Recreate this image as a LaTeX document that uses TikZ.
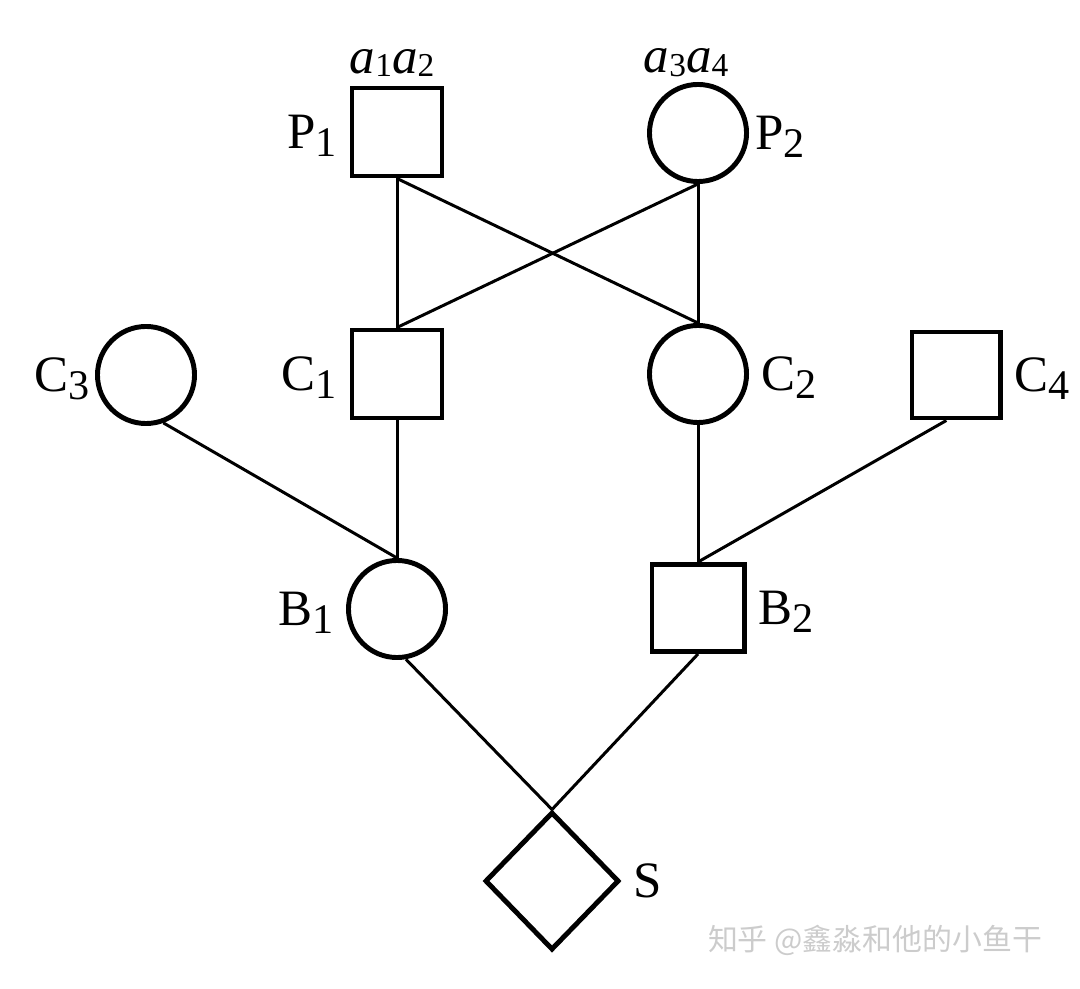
\documentclass[tikz,border=0pt]{standalone}
\usepackage{fontspec}
\setmainfont{Liberation Serif}
\newfontfamily\cjk{Noto Sans CJK SC}
\usetikzlibrary{shapes.geometric,positioning}
\newcommand{\lowsub}[1]{\raisebox{-2.3pt}{\fontsize{12}{12}\selectfont #1}}
\newcommand{\asub}[1]{\raisebox{-1pt}{\fontsize{9.5}{9.5}\selectfont #1}}

\begin{document}
\begin{tikzpicture}[x=0.01cm,y=-0.01cm,
  sq/.style={draw,line width=1.4pt,minimum width=0.9cm,minimum height=0.88cm,inner sep=0pt},
  crc/.style={circle,draw,line width=1.4pt,minimum size=0.97cm,inner sep=0pt},
  dmd/.style={diamond,draw,line width=1.4pt,minimum width=1.34cm,minimum height=1.38cm,inner sep=0pt},
  lbl/.style={font=\fontsize{14.5}{16}\selectfont,text depth=0pt},
  link/.style={line width=0.85pt}
]
\useasboundingbox (0,0) rectangle (1080,989);

\node[sq,label={[lbl]left:P\lowsub{1}},label={[lbl,xshift=-0.5mm]above:\textit{a}\asub{1}\textit{a}\asub{2}}] (p1) at (397,132) {};
\node[crc,label={[lbl,label distance=-0.06cm]right:P\lowsub{2}},label={[lbl,xshift=-1.2mm,yshift=-0.3mm]above:\textit{a}\asub{3}\textit{a}\asub{4}}] (p2) at (698,133) {};

\node[crc,label={[lbl,label distance=-0.07cm]left:C\lowsub{3}}] (c3) at (146,375) {};
\node[sq,label={[lbl]left:C\lowsub{1}}] (c1) at (397,374) {};
\node[crc,label={[lbl]right:C\lowsub{2}}] (c2) at (698,374) {};
\node[sq,minimum width=0.88cm,minimum height=0.86cm,label={[lbl]right:C\lowsub{4}}] (c4) at (956,375) {};

\node[crc,label={[lbl]left:B\lowsub{1}}] (b1) at (397,609) {};
\node[sq,minimum width=0.92cm,minimum height=0.87cm,label={[lbl]right:B\lowsub{2}}] (b2) at (698,608) {};

\node[dmd,label={[lbl]right:S}] (s) at (552,881) {};

\node[font=\cjk\fontsize{8.5}{10}\selectfont,text=gray!40] (wm) at (875,940) {知乎 @鑫淼和他的小鱼干};

\draw[link] (p1.south) -- (c1.north);
\draw[link] (p1.south) -- (c2.north);
\draw[link] (p2.south) -- (c1.north);
\draw[link] (p2.south) -- (c2.north);
\draw[link] (c3.-70) -- (b1.north);
\draw[link] (c1.south) -- (b1.north);
\draw[link] (c2.south) -- (b2.north);
\draw[link] (c4.-102) -- (b2.north);
\draw[link] (b1.-80) -- (s.north);
\draw[link] (b2.south) -- (s.north);
\end{tikzpicture}
\end{document}
